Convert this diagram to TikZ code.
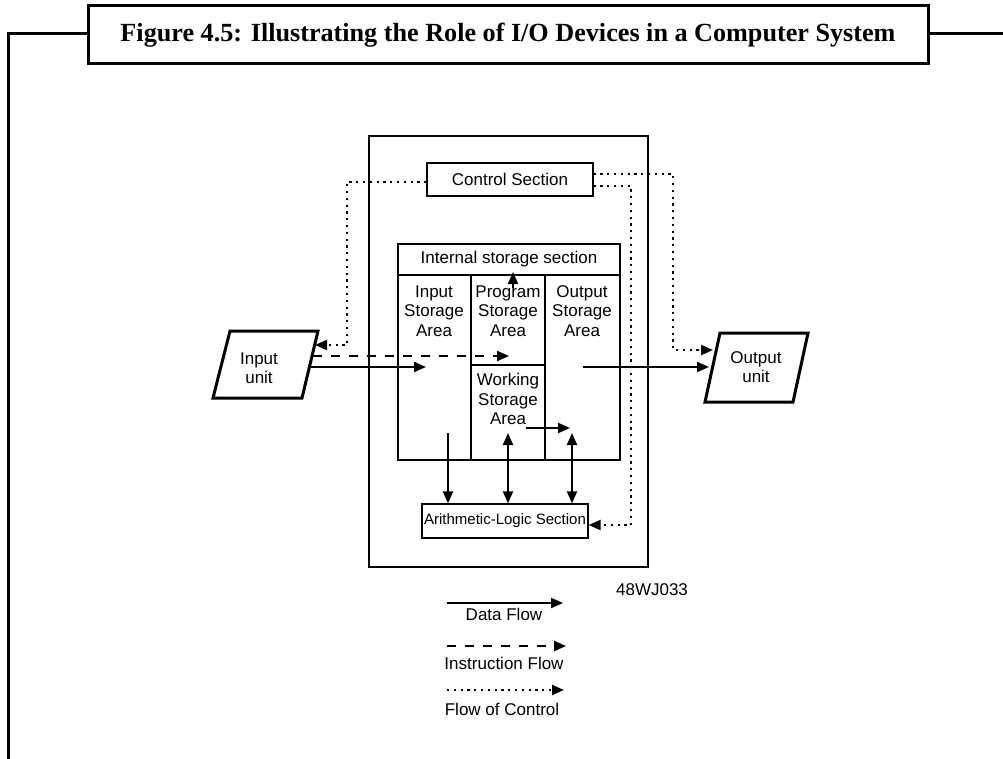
\documentclass[tikz,border=0pt]{standalone}
\usepackage{fontspec}
\setmainfont{Liberation Sans}
\newfontfamily\titlefont{Liberation Serif}
\usetikzlibrary{arrows.meta}
\begin{document}
\begin{tikzpicture}[x=1pt,y=-1pt,
  lbl/.style={font=\fontsize{17}{19.5}\selectfont, align=center, inner sep=0pt},
  box/.style={draw, line width=1.3pt, inner sep=0pt},
  tip/.style={-{Triangle[length=12pt,width=10pt]}},
  dataarrow/.style={line width=2pt, tip},
  dbl/.style={line width=2pt, {Triangle[length=12pt,width=10pt]}-{Triangle[length=12pt,width=10pt]}},
  instr/.style={line width=2.2pt, dash pattern=on 9pt off 9pt, tip},
  ctrl/.style={line width=2.2pt, dash pattern=on 2.2pt off 4.6pt, tip},
  thick3/.style={line width=3pt},
]
\useasboundingbox (0,0) rectangle (1003,759);
\fill[white] (0,0) rectangle (1003,759);

% outer frame
\draw[thick3] (8,759) -- (8,34) -- (1003,34);
\node[draw, thick3, fill=white, minimum width=840pt, minimum height=58pt, inner sep=0pt] (title) at (508,35)
  {\resizebox{775pt}{!}{\titlefont\bfseries\fontsize{22}{26}\selectfont Figure 4.5: Illustrating the Role of I/O Devices in a Computer System}};

% big box
\draw[line width=2.6pt] (369,136) rectangle (648,567);

% control section
\node[box, minimum width=166pt, minimum height=33pt] (ctrl) at (510,179.5) {\fontsize{17}{19.5}\selectfont Control Section};

% internal storage
\node[draw, line width=1.1pt, minimum width=222pt, minimum height=31pt, inner sep=0pt] (isec) at (509,259.5) {\fontsize{17}{19.5}\selectfont Internal storage section};
\draw[line width=1.1pt] (398,275) -- (398,460) -- (620,460) -- (620,275);
\draw[line width=1.1pt] (471,275) -- (471,460);
\draw[line width=1.1pt] (545,275) -- (545,460);
\draw[line width=1.1pt] (471,365) -- (545,365);

\node[lbl] (inarea) at (434,311) {Input\\Storage\\Area};
\node[lbl] (progarea) at (508,311) {Program\\Storage\\Area};
\node[lbl] (outarea) at (582,311) {Output\\Storage\\Area};
\node[lbl] (workarea) at (508,399) {Working\\Storage\\Area};

% ALU
\node[box, minimum width=166pt, minimum height=34pt] (alu) at (505,521) {\fontsize{15}{18}\selectfont Arithmetic-Logic Section};

% I/O units
\draw[thick3, line join=miter] (230,331) -- (318,331) -- (302,398) -- (213,398) -- cycle;
\node[lbl] (inunit) at (259,368) {Input\\unit};
\draw[thick3, line join=miter] (720,333) -- (808,333) -- (793,402) -- (705,402) -- cycle;
\node[lbl] (outunit) at (756,367) {Output\\unit};

% coordinates
\coordinate (inR1) at (311,367);
\coordinate (inR2) at (313,356);
\coordinate (inR3) at (315,345);
\coordinate (inStoreIn) at (426,367);
\coordinate (progIn) at (509,356);
\coordinate (outStoreOut) at (583,367);
\coordinate (outL1) at (709,367);
\coordinate (outL2) at (713,350);
\coordinate (progTop) at (513,288);
\coordinate (isecBot) at (513,272);
\coordinate (workOut) at (526,428);
\coordinate (workEnd) at (570,428);
\coordinate (inStoreBot) at (448,433);
\coordinate (progBot) at (508,433);
\coordinate (outBot) at (572,433);

% data flow
\draw[dataarrow] (inR1) -- (inStoreIn);
\draw[dataarrow] (outStoreOut) -- (outL1);
\draw[dataarrow] (progTop) -- (isecBot);
\draw[dataarrow] (workOut) -- (workEnd);
\draw[dataarrow] (inStoreBot) -- (inStoreBot |- alu.north);
\draw[dbl] (progBot) -- (progBot |- alu.north);
\draw[dbl] (outBot) -- (outBot |- alu.north);

% instruction flow
\draw[instr] (inR2) -- (progIn);

% flow of control
\draw[ctrl] (ctrl.west |- 0,182) -- (347,182) -- (347,345) -- (inR3);
\draw[ctrl] (ctrl.east |- 0,174) -- (673,174) -- (673,350) -- (outL2);
\draw[ctrl] (ctrl.east |- 0,186) -- (631,186) -- (631,525) -- (alu.east |- 0,525);

% legend
\node[lbl] (code) at (652,590) {48WJ033};
\coordinate (l1a) at (447,603); \coordinate (l1b) at (563,603);
\coordinate (l2a) at (447,646); \coordinate (l2b) at (566,646);
\coordinate (l3a) at (447,690); \coordinate (l3b) at (564,690);
\draw[dataarrow] (l1a) -- (l1b);
\node[lbl] (ldata) at (504,614) {Data Flow};
\draw[instr] (l2a) -- (l2b);
\node[lbl] (linstr) at (504,663) {Instruction Flow};
\draw[ctrl] (l3a) -- (l3b);
\node[lbl] (lctrl) at (502,709) {Flow of Control};
\end{tikzpicture}
\end{document}
